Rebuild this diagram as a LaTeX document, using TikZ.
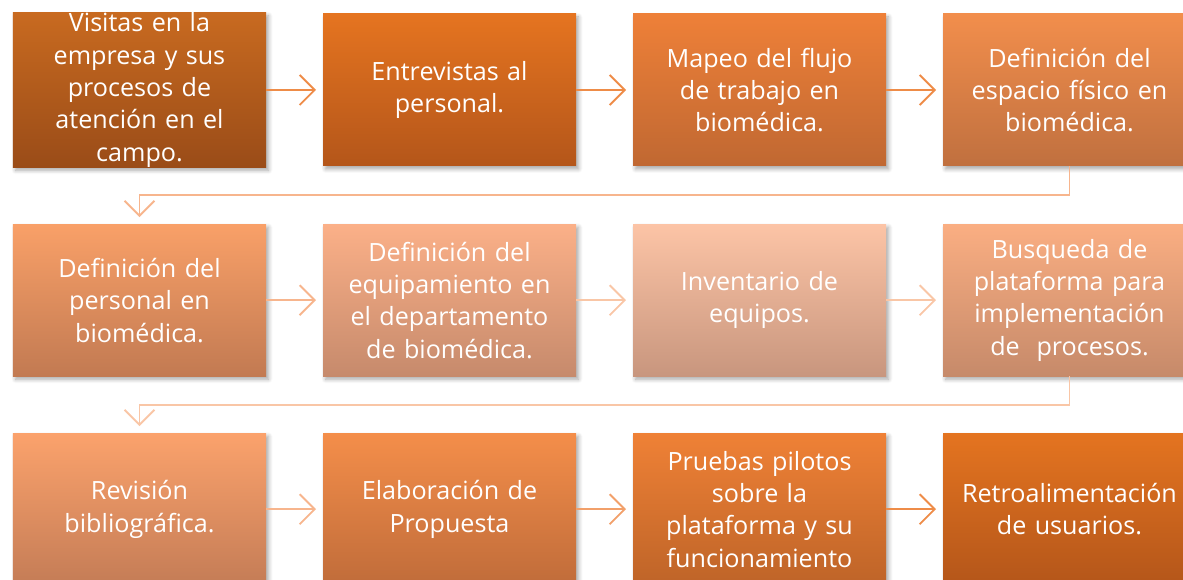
\documentclass[tikz,border=0pt]{standalone}
\usepackage{fontspec}
\setmainfont{Open Sans}
\usetikzlibrary{arrows.meta,positioning,shadows.blur}

% box gradients (top / bottom)
\definecolor{oneT}{HTML}{C86A20}    \definecolor{oneB}{HTML}{9A4C18}
\definecolor{twoT}{HTML}{E57420}    \definecolor{twoB}{HTML}{B4561A}
\definecolor{threeT}{HTML}{EE8038}  \definecolor{threeB}{HTML}{C06832}
\definecolor{fourT}{HTML}{F28E4C}   \definecolor{fourB}{HTML}{C0703F}
\definecolor{fiveT}{HTML}{F9A068}   \definecolor{fiveB}{HTML}{C27A52}
\definecolor{sixT}{HTML}{FBB088}    \definecolor{sixB}{HTML}{C68A6C}
\definecolor{sevenT}{HTML}{FCC4A6}  \definecolor{sevenB}{HTML}{C8967E}
\definecolor{eightT}{HTML}{FAAE82}  \definecolor{eightB}{HTML}{C68A6A}
\definecolor{nineT}{HTML}{FBA26C}   \definecolor{nineB}{HTML}{C47C56}
\definecolor{tenT}{HTML}{F48E4A}    \definecolor{tenB}{HTML}{C06C3A}
\definecolor{elevenT}{HTML}{EF8136} \definecolor{elevenB}{HTML}{BE6428}
\definecolor{twelveT}{HTML}{E47420} \definecolor{twelveB}{HTML}{B4561A}
% connector colours
\definecolor{lnkDark}{HTML}{EE8C48}
\definecolor{lnkMid}{HTML}{F2A06A}
\definecolor{lnkLight}{HTML}{F7B58D}
\definecolor{lnkPale}{HTML}{F9C6A6}

\tikzset{
    box/.style={
        minimum width=5.06cm, minimum height=3.04cm, text width=5cm,
        inner sep=0pt, outer sep=0pt, align=center, text=white,
        font=\fontsize{14.3}{18.4}\selectfont,
        blur shadow={shadow xshift=0.05cm, shadow yshift=-0.06cm,
            shadow blur steps=6, shadow blur radius=0.08cm, shadow opacity=35}
    },
    tint/.style 2 args={top color=#1, bottom color=#2},
    link/.style={
        draw=#1, line width=1.1pt, shorten >=0.14cm,
        -{Straight Barb[length=0.3cm, width=0.6cm]}
    }
}

\begin{document}
\begin{tikzpicture}[node distance=1.14cm]

\path[use as bounding box, clip] (0,0) rectangle (23.66,11.6);

% Row 1
\node[box, tint={oneT}{oneB}] (b1) at (2.79,9.8)
    {Visitas en la\\empresa y sus\\procesos de\\atención en el\\campo.};
\node[box, tint={twoT}{twoB}, right=of b1] (b2) {Entrevistas al\\personal.};
\node[box, tint={threeT}{threeB}, right=of b2] (b3) {Mapeo del flujo\\de trabajo en\\biomédica.};
\node[box, tint={fourT}{fourB}, right=of b3] (b4) {Definición del\\espacio físico en\\biomédica.};

% Row 2
\node[box, tint={fiveT}{fiveB}, below=of b1] (b5) {Definición del\\personal en\\biomédica.};
\node[box, tint={sixT}{sixB}, right=of b5] (b6) {Definición del\\equipamiento en\\el departamento\\de biomédica.};
\node[box, tint={sevenT}{sevenB}, right=of b6] (b7) {Inventario de\\equipos.};
\node[box, tint={eightT}{eightB}, right=of b7] (b8) {Busqueda de\\plataforma para\\implementación\\de\ \ procesos.};

% Row 3
\node[box, tint={nineT}{nineB}, below=of b5] (b9) {Revisión\\bibliográfica.};
\node[box, tint={tenT}{tenB}, right=of b9] (b10) {Elaboración de\\Propuesta};
\node[box, tint={elevenT}{elevenB}, right=of b10] (b11) {Pruebas pilotos\\sobre la\\plataforma y su\\funcionamiento};
\node[box, tint={twelveT}{twelveB}, right=of b11] (b12) {Retroalimentación\\de usuarios.};

% Arrows within rows
\draw[link=lnkDark] (b1.east) -- (b2.west);
\draw[link=lnkDark] (b2.east) -- (b3.west);
\draw[link=lnkDark] (b3.east) -- (b4.west);
\draw[link=lnkLight] (b5.east) -- (b6.west);
\draw[link=lnkPale] (b6.east) -- (b7.west);
\draw[link=lnkPale] (b7.east) -- (b8.west);
\draw[link=lnkLight] (b9.east) -- (b10.west);
\draw[link=lnkMid] (b10.east) -- (b11.west);
\draw[link=lnkDark] (b11.east) -- (b12.west);

% Row changes
\draw[link=lnkLight] (b4.south) -- ++(0,-0.58) -| (b5.north);
\draw[link=lnkPale] (b8.south) -- ++(0,-0.58) -| (b9.north);

\end{tikzpicture}
\end{document}
